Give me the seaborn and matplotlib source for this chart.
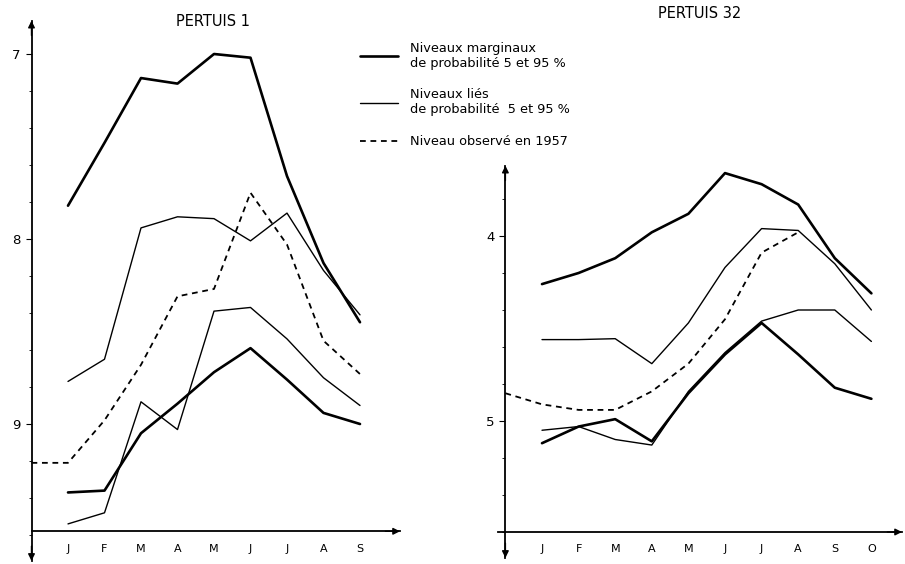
import matplotlib
matplotlib.use("Agg")
import matplotlib.pyplot as plt
import seaborn as sns
import pandas as pd
from matplotlib.lines import Line2D

# ---------------- data ----------------
months_p1 = ["J", "F", "M", "A", "M", "J", "J", "A", "S"]
months_p32 = ["J", "F", "M", "A", "M", "J", "J", "A", "S", "O"]

# PERTUIS 1 (level, axis inverted)
p1_marg_high = [7.82, 7.48, 7.13, 7.16, 7.00, 7.02, 7.66, 8.13, 8.45]
p1_marg_low = [9.37, 9.36, 9.05, 8.89, 8.72, 8.59, 8.76, 8.94, 9.00]
p1_lies_high = [8.77, 8.65, 7.94, 7.88, 7.89, 8.01, 7.86, 8.17, 8.41]
p1_lies_low = [9.54, 9.48, 8.88, 9.03, 8.39, 8.37, 8.54, 8.75, 8.90]
p1_obs_1957 = [9.21, 9.21, 8.98, 8.68, 8.31, 8.27, 7.75, 8.03, 8.55, 8.73]  # starts at axis

# PERTUIS 32
p32_marg_high = [4.26, 4.20, 4.12, 3.98, 3.88, 3.66, 3.72, 3.83, 4.12, 4.31]
p32_marg_low = [5.12, 5.03, 4.99, 5.11, 4.85, 4.64, 4.47, 4.64, 4.82, 4.88]
p32_lies_high = [4.56, 4.56, 4.555, 4.69, 4.47, 4.17, 3.96, 3.97, 4.15, 4.40]
p32_lies_low = [5.05, 5.03, 5.10, 5.13, 4.84, 4.63, 4.46, 4.40, 4.40, 4.57]
p32_obs_1957 = [4.85, 4.91, 4.94, 4.94, 4.84, 4.69, 4.45, 4.09, 3.98]  # starts at axis, ends in August

legend_labels = ["Niveaux marginaux\nde probabilité 5 et 95 %",
                 "Niveaux liés\nde probabilité  5 et 95 %",
                 "Niveau observé en 1957"]

# ---------------- figure ----------------
sns.set_style("white")
plt.rcParams["font.family"] = ["DejaVu Sans"]
plt.rcParams["text.color"] = "black"
plt.rcParams["xtick.color"] = "black"
plt.rcParams["ytick.color"] = "black"
plt.rcParams["xtick.labelcolor"] = "black"
plt.rcParams["ytick.labelcolor"] = "black"

W, H = 905, 564
fig = plt.figure(figsize=(W / 100, H / 100), dpi=100)

THICK = 1.9
THIN = 1.0
DASH = (0, (3.2, 2.6))


def px_axes(x0, x1, y0, y1):
    return fig.add_axes([x0 / W, 1 - y1 / H, (x1 - x0) / W, (y1 - y0) / H])


def series_df(values, start):
    return pd.DataFrame({"x": list(range(start, start + len(values))), "y": values})


def draw_panel(ax, months, mh, ml, lh, ll, obs, xlim, ylim, xaxis_y, yaxis_top,
               yaxis_bot, xaxis_start, xaxis_end, yticks):
    for vals in (mh, ml):
        d = series_df(vals, 1)
        sns.lineplot(data=d, x="x", y="y", ax=ax, color="black", linewidth=THICK,
                     sort=False, estimator=None)
    for vals in (lh, ll):
        d = series_df(vals, 1)
        sns.lineplot(data=d, x="x", y="y", ax=ax, color="black", linewidth=THIN,
                     sort=False, estimator=None)
    d = series_df(obs, 0)
    sns.lineplot(data=d, x="x", y="y", ax=ax, color="black", linewidth=1.3,
                 linestyle=DASH, sort=False, estimator=None)

    ax.set_xlim(*xlim)
    ax.set_ylim(*ylim)
    ax.set_xlabel("")
    ax.set_ylabel("")
    for s in ("top", "right"):
        ax.spines[s].set_visible(False)
    ax.spines["left"].set_position(("data", 0))
    ax.spines["left"].set_bounds(yaxis_bot, yaxis_top)
    ax.spines["bottom"].set_position(("data", xaxis_y))
    ax.spines["bottom"].set_bounds(xaxis_start, xaxis_end)
    for s in ("left", "bottom"):
        ax.spines[s].set_linewidth(1.3)
        ax.spines[s].set_color("black")

    ax.set_xticks(range(1, len(months) + 1))
    ax.set_xticklabels(months, fontsize=8)
    ax.tick_params(axis="x", bottom=True, length=0, pad=9)
    ax.set_yticks(yticks)
    ax.set_yticklabels([str(int(t)) for t in yticks], fontsize=9.5)
    ax.tick_params(axis="y", which="both", left=True)
    ax.tick_params(axis="y", which="major", length=4, width=0.8, direction="out", pad=4)
    lo, hi = sorted((yaxis_top, yaxis_bot))
    minors = []
    k = 0
    v = yticks[0] - 1.0
    while v < hi:
        if lo < v < hi and abs(v - round(v)) > 1e-6:
            minors.append(round(v, 1))
        k += 1
        v = yticks[0] - 1.0 + 0.2 * k
    ax.set_yticks(minors, minor=True)
    ax.tick_params(axis="y", which="minor", length=2, width=0.6, direction="out")

    ap = dict(arrowstyle="-|>", color="black", lw=1.0, mutation_scale=10,
              shrinkA=0, shrinkB=0)
    ax.annotate("", xy=(0, yaxis_top), xytext=(0, yaxis_top + 0.08), arrowprops=ap,
                annotation_clip=False)
    ax.annotate("", xy=(0, yaxis_bot), xytext=(0, yaxis_bot - 0.08), arrowprops=ap,
                annotation_clip=False)
    ax.annotate("", xy=(xaxis_end, xaxis_y), xytext=(xaxis_end - 0.4, xaxis_y),
                arrowprops=ap, annotation_clip=False)
    ax.set_facecolor("none")


# Left panel: PERTUIS 1
ax1 = px_axes(20, 405, 15, 564)
draw_panel(ax1, months_p1, p1_marg_high, p1_marg_low, p1_lies_high, p1_lies_low,
           p1_obs_1957,
           xlim=(1 + (20 - 68) / 36.5, 1 + (405 - 68) / 36.5),
           ylim=(7 + (564 - 54) / 185, 7 + (15 - 54) / 185),
           xaxis_y=9.58, yaxis_top=6.82, yaxis_bot=9.74,
           xaxis_start=0, xaxis_end=1 + (400 - 68) / 36.5, yticks=[7, 8, 9])

# Right panel: PERTUIS 32
ax2 = px_axes(490, 905, 15, 564)
draw_panel(ax2, months_p32, p32_marg_high, p32_marg_low, p32_lies_high, p32_lies_low,
           p32_obs_1957,
           xlim=(1 + (490 - 542) / 36.6, 1 + (905 - 542) / 36.6),
           ylim=(4 + (564 - 236) / 185, 4 + (15 - 236) / 185),
           xaxis_y=5.6, yaxis_top=3.62, yaxis_bot=5.74,
           xaxis_start=-0.2, xaxis_end=1 + (902 - 542) / 36.6, yticks=[4, 5])

# Titles
fig.text(213 / W, 1 - 22 / H, "PERTUIS 1", ha="center", va="center", fontsize=10.5)
fig.text(700 / W, 1 - 13 / H, "PERTUIS 32", ha="center", va="center", fontsize=10.5)

# Legend (custom handles)
handles = [Line2D([], [], color="black", lw=THICK),
           Line2D([], [], color="black", lw=THIN),
           Line2D([], [], color="black", lw=1.3, linestyle=DASH)]
fig.legend(handles, legend_labels, loc="upper left",
           bbox_to_anchor=(348 / W, 1 - 30 / H), frameon=False, fontsize=9.3,
           handlelength=3.0, handletextpad=0.9, labelspacing=1.45,
           labelcolor="black")

fig.savefig("out.png", dpi=100)
